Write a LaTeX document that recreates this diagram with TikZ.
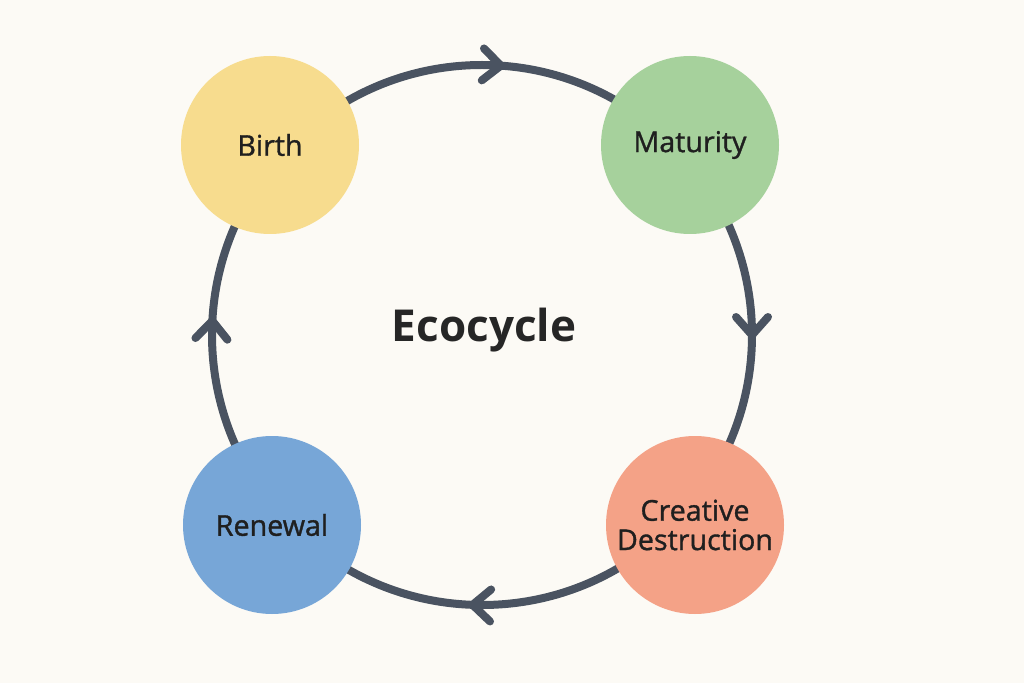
\documentclass[tikz,border=0pt]{standalone}
\usepackage{fontspec}
\setmainfont{Open Sans}
\newfontfamily\semib[FakeBold=1.2]{Open Sans}
\definecolor{bg}{HTML}{FCFAF5}
\definecolor{ln}{HTML}{4A5361}
\definecolor{cb}{HTML}{F7DC8E}
\definecolor{cm}{HTML}{A6D19C}
\definecolor{cd}{HTML}{F4A287}
\definecolor{cr}{HTML}{77A6D7}
\begin{document}
\begin{tikzpicture}[x=0.75pt,y=0.75pt,
  stage/.style={circle,minimum size=178*0.75pt,inner sep=0pt,align=center,font=\semib\fontsize{21.5}{24}\selectfont\color{black!88}},
  ring/.style={draw=ln,line width=6pt},
  chev/.style={draw=ln,line width=6pt,line cap=round,line join=round}]
\fill[bg] (0,0) rectangle (1024,683);
\useasboundingbox (0,0) rectangle (1024,683);
\coordinate (C) at (482,348);
\draw[ring] (C) circle (270);
\foreach \a in {86,0,-92,177}{
  \begin{scope}[shift={(C)},rotate=\a]
    \draw[chev] (254,18) -- (270,0) -- (286,18);
  \end{scope}}
\node[stage,fill=cb] (birth) at (270,538) {Birth};
\node[stage,fill=cm] (mat) at (690,538) {Maturity};
\node[stage,fill=cd] (cdn) at (695,158) {Creative\\[-2pt]Destruction};
\node[stage,fill=cr] (ren) at (272,158) {Renewal};
\node[font=\fontsize{33}{36}\selectfont\bfseries,text=black!85] (eco) at (484,353) {Ecocycle};
\end{tikzpicture}
\end{document}
